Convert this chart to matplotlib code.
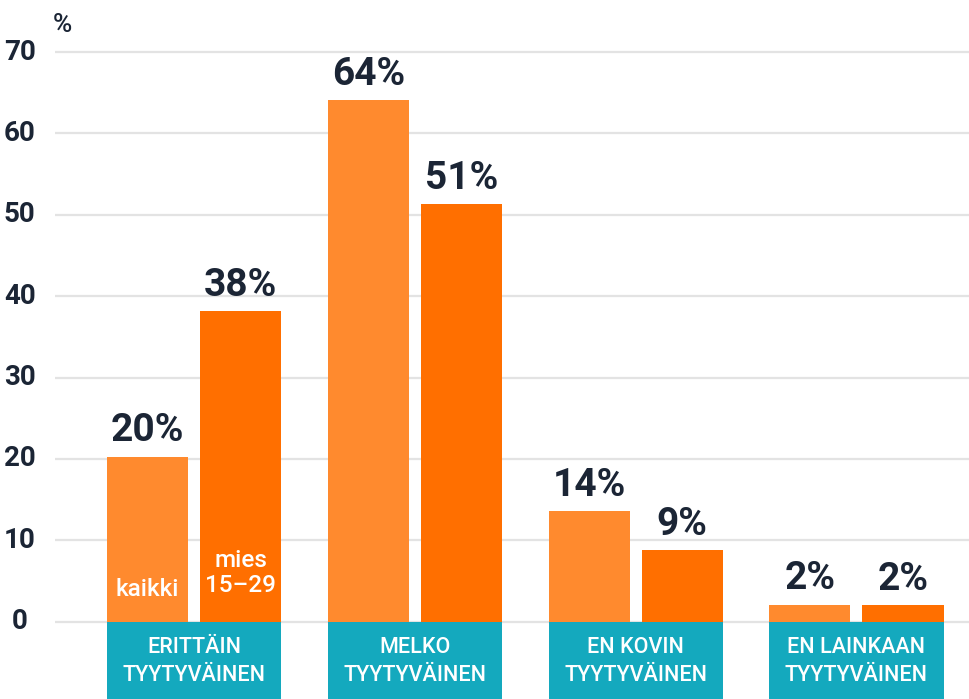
import matplotlib
matplotlib.use('Agg')
import matplotlib.pyplot as plt
import numpy as np

# Data (percent)
categories = ['ERITTÄIN\nTYYTYVÄINEN', 'MELKO\nTYYTYVÄINEN',
              'EN KOVIN\nTYYTYVÄINEN', 'EN LAINKAAN\nTYYTYVÄINEN']
kaikki = [20.3, 64.1, 13.6, 2.1]
mies_15_29 = [38.2, 51.3, 8.8, 2.0]
series_names = ['kaikki', 'mies\n15–29']
y_ticks = [0, 10, 20, 30, 40, 50, 60, 70]

c_kaikki = '#FF8A2E'
c_mies = '#FF6F00'
c_teal = '#14A9BE'
c_text = '#1B2535'

plt.rcParams['font.family'] = ['Roboto', 'DejaVu Sans']

fig = plt.figure(figsize=(9.69, 6.99), dpi=100)
ax = fig.add_axes([55 / 969, 0, 914 / 969, 1])

x = np.arange(len(categories))
w = 0.367
off = 0.211
y_bottom = -9.5

ax.bar(x - off, kaikki, w, color=c_kaikki, zorder=3)
ax.bar(x + off, mies_15_29, w, color=c_mies, zorder=3)

# teal category boxes below zero line
ax.bar(x, 0 - y_bottom, 2 * off + w, bottom=y_bottom, color=c_teal, zorder=3)
for xi, cat in zip(x, categories):
    ax.text(xi, y_bottom / 2 - 0.1, cat, ha='center', va='center', color='white',
            fontsize=15.5, fontweight='medium', linespacing=1.45, zorder=4)

# value labels
for xi, v in zip(x, kaikki):
    ax.text(xi - off, v + 0.9, f'{v:.0f}%', ha='center', va='bottom',
            color=c_text, fontsize=28, fontweight='bold', zorder=4)
for xi, v in zip(x, mies_15_29):
    ax.text(xi + off, v + 0.9, f'{v:.0f}%', ha='center', va='bottom',
            color=c_text, fontsize=28, fontweight='bold', zorder=4)

# series names inside the first pair of bars
ax.text(x[0] - off, 3.9, series_names[0], ha='center', va='center',
        color='white', fontsize=17.5, fontweight='medium', zorder=4)
ax.text(x[0] + off, 6.0, series_names[1], ha='center', va='center',
        color='white', fontsize=17.5, fontweight='medium', linespacing=1.15,
        zorder=4)

# gridlines
for t in y_ticks:
    ax.axhline(t, color='#E3E3E3', lw=1.6, zorder=1)
    ax.text(-0.79, t, str(t), ha='center', va='center', color=c_text,
            fontsize=20, fontweight='bold', clip_on=False)
ax.text(-0.595, 73.3, '%', ha='center', va='center', color=c_text,
        fontsize=19, fontweight='medium')

ax.set_xlim(-0.63, 3.51)
ax.set_ylim(y_bottom, 76.4)
ax.axis('off')

fig.savefig('out.png', dpi=100)
